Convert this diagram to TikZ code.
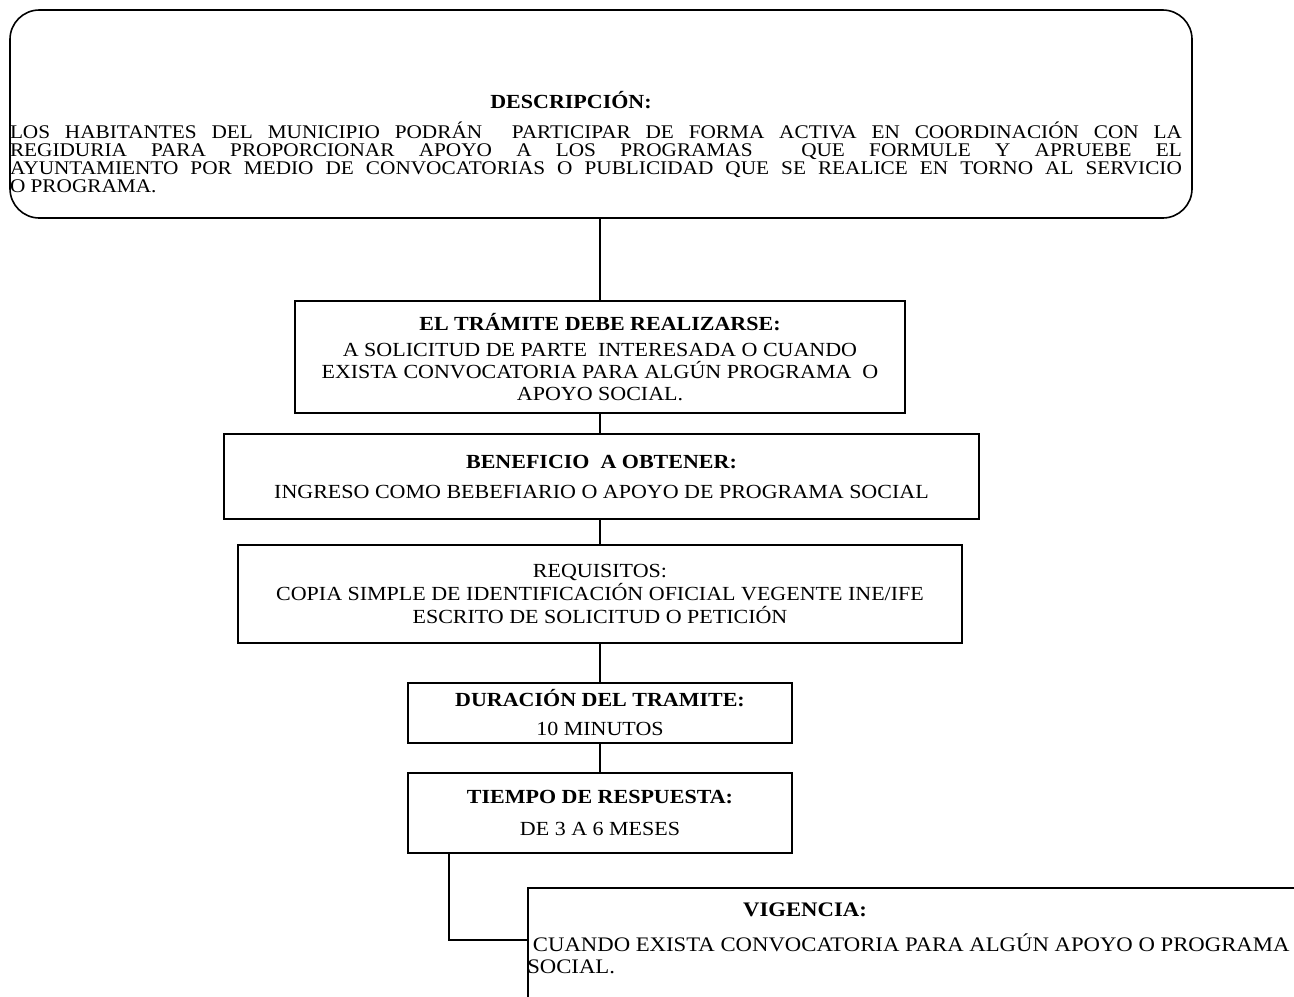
\documentclass[tikz,border=0pt]{standalone}
\usepackage{fontspec}
\setmainfont{Liberation Serif}[FakeStretch=1.1]
\usetikzlibrary{positioning,calc}

\tikzset{
  paso/.style={draw, line width=1.2pt, align=center, inner sep=0pt,
    font=\fontsize{15}{16.5}\selectfont},
  linea/.style={line width=1.2pt},
}

\begin{document}
\begin{tikzpicture}[x=0.75pt,y=-0.75pt]
\useasboundingbox (0,0) rectangle (1294,996);
\clip (0,0) rectangle (1294,996);
% descripcion
\node[draw, line width=1.2pt, rounded corners=22pt, minimum width=886.5pt,
  minimum height=156pt] (desc) at (601,114) {};
\node[inner sep=0pt, font=\fontsize{15}{16}\selectfont\bfseries] (desctitulo) at (571,100) {DESCRIPCIÓN:};
\node[inner sep=0pt, align=left, font=\fontsize{14.5}{13.5}\selectfont] (desctexto) at (596,157)
  {\makebox[879pt][s]{LOS HABITANTES DEL MUNICIPIO PODRÁN~ PARTICIPAR DE FORMA ACTIVA EN COORDINACIÓN CON LA}\\
   \makebox[879pt][s]{REGIDURIA PARA PROPORCIONAR APOYO A LOS PROGRAMAS~ QUE FORMULE Y APRUEBE EL}\\
   \makebox[879pt][s]{AYUNTAMIENTO POR MEDIO DE CONVOCATORIAS O PUBLICIDAD QUE SE REALICE EN TORNO AL SERVICIO}\\
   O PROGRAMA.};
% pasos
\node[paso, minimum width=457.5pt, minimum height=84pt] (tramite) at (600,357)
  {\textbf{EL TRÁMITE DEBE REALIZARSE:}\\[3pt]
   A SOLICITUD DE PARTE~ INTERESADA O CUANDO\\
   EXISTA CONVOCATORIA PARA ALGÚN PROGRAMA~ O\\
   APOYO SOCIAL.};
\node[paso, minimum width=566.25pt, minimum height=63.75pt] (beneficio) at (601.5,476.5)
  {\textbf{BENEFICIO~ A OBTENER:}\\[6pt]
   INGRESO COMO BEBEFIARIO O APOYO DE PROGRAMA SOCIAL};
\node[paso, minimum width=543pt, minimum height=73.5pt,
  font=\fontsize{15}{17.25}\selectfont] (requisitos) at (600,594)
  {REQUISITOS:\\
   COPIA SIMPLE DE IDENTIFICACIÓN OFICIAL VEGENTE INE/IFE\\
   ESCRITO DE SOLICITUD O PETICIÓN};
\node[paso, minimum width=288pt, minimum height=45pt] (duracion) at (600,713)
  {\textbf{DURACIÓN DEL TRAMITE:}\\[5.25pt]
   10 MINUTOS};
\node[paso, minimum width=288pt, minimum height=60pt] (tiempo) at (600,813)
  {\textbf{TIEMPO DE RESPUESTA:}\\[7.5pt]
   DE 3 A 6 MESES};
% vigencia
\node[draw, line width=1.2pt, anchor=north west, minimum width=600pt,
  minimum height=150pt] (vig) at (527,887) {};
\node[inner sep=0pt, font=\fontsize{15.5}{16}\selectfont\bfseries] (vigtitulo) at (805,910) {VIGENCIA:};
\node[inner sep=0pt, anchor=west, align=left, font=\fontsize{15.5}{16.5}\selectfont] (vigtexto) at (527,954)
  {\ CUANDO EXISTA CONVOCATORIA PARA ALGÚN APOYO O PROGRAMA\\
   SOCIAL.};
% conectores
\coordinate (tiemposalida) at ($(tiempo.south west)+(42,0)$);
\coordinate (vigentrada) at ($(vig.north west)+(0,53)$);
\draw[linea] (tramite.north |- desc.south) -- (tramite.north);
\draw[linea] (tramite.south) -- (tramite.south |- beneficio.north);
\draw[linea] (requisitos.north |- beneficio.south) -- (requisitos.north);
\draw[linea] (requisitos.south) -- (duracion.north);
\draw[linea] (duracion.south) -- (tiempo.north);
\draw[linea] (tiemposalida) |- (vigentrada);
\end{tikzpicture}
\end{document}
